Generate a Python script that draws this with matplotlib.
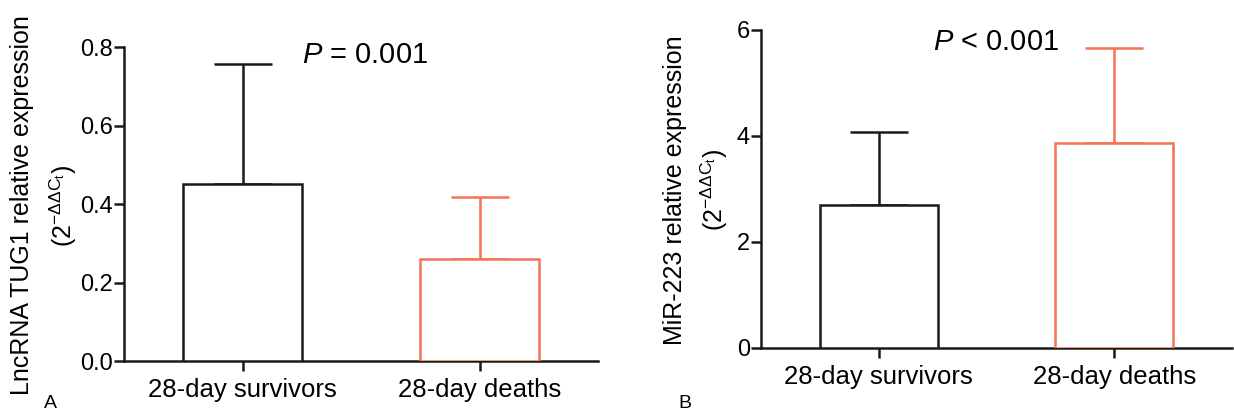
import matplotlib
matplotlib.use("Agg")
import matplotlib.pyplot as plt
import numpy as np

plt.rcParams['font.family'] = ['Liberation Sans', 'DejaVu Sans']
plt.rcParams['mathtext.fontset'] = 'custom'
plt.rcParams['mathtext.rm'] = 'Liberation Sans'
plt.rcParams['mathtext.it'] = 'Liberation Sans:italic'

categories = ["28-day survivors", "28-day deaths"]
tug1_mean = [0.45, 0.26]
tug1_sd = [0.307, 0.158]
mir_mean = [2.70, 3.87]
mir_sd = [1.38, 1.79]
tug1_ticks = [0.0, 0.2, 0.4, 0.6, 0.8]
mir_ticks = [0, 2, 4, 6]

colors = ["#1a1a1a", "#F37355"]
LW = 1.8

fig = plt.figure(figsize=(12.34, 4.12), dpi=100)
axA = fig.add_axes([124/1234, 1-361/412, (598-124)/1234, (361-47)/412])
axB = fig.add_axes([761/1234, 1-348/412, (1232-761)/1234, (348-30)/412])

def draw(ax, means, sds, ticks, fmt):
    x = np.arange(len(categories))
    for i in range(len(categories)):
        ax.bar(x[i], means[i], width=0.5, color="white", edgecolor=colors[i],
               linewidth=LW, zorder=3)
        ax.errorbar(x[i], means[i], yerr=[[0], [sds[i]]], color=colors[i],
                    capsize=21, elinewidth=LW, capthick=LW, zorder=2)
    ax.set_xlim(-0.5, 1.5)
    ax.set_ylim(ticks[0], ticks[-1])
    ax.set_yticks(ticks)
    ax.set_yticklabels([fmt.format(t) for t in ticks], fontsize=17)
    ax.set_xticks(x)
    ax.set_xticklabels(categories, fontsize=18.5)
    for s in ["top", "right"]:
        ax.spines[s].set_visible(False)
    for s in ["left", "bottom"]:
        ax.spines[s].set_linewidth(LW)
        ax.spines[s].set_color("#1a1a1a")
    ax.tick_params(axis="both", width=LW, length=7, color="#1a1a1a")
    ax.tick_params(axis="y", pad=1)
    ax.tick_params(axis="x", pad=5)
    for sp in ax.spines.values():
        sp.set_clip_on(False)

draw(axA, tug1_mean, tug1_sd, tug1_ticks, "{:.1f}")
draw(axB, mir_mean, mir_sd, mir_ticks, "{:d}")

sub = "(2$^{\\mathrm{-\\Delta\\Delta C_t}}$)"
fig.text(22/1234, 1-205/412, "LncRNA TUG1 relative expression", fontsize=18,
         rotation=90, ha="center", va="center")
fig.text(63/1234, 1-206/412, sub, fontsize=18, rotation=90, ha="center", va="center")
fig.text(675/1234, 1-190/412, "MiR-223 relative expression", fontsize=18,
         rotation=90, ha="center", va="center")
fig.text(714/1234, 1-190/412, sub, fontsize=18, rotation=90, ha="center", va="center")

fig.text(302/1234, 1-55/412, "$P$ = 0.001", fontsize=21, va="center", ha="left")
fig.text(933/1234, 1-42/412, "$P$ < 0.001", fontsize=21, va="center", ha="left")
fig.text(50/1234, 1-403/412, "A", fontsize=14, va="center", ha="center")
fig.text(685/1234, 1-403/412, "B", fontsize=14, va="center", ha="center")

fig.savefig("out.png", dpi=100)
